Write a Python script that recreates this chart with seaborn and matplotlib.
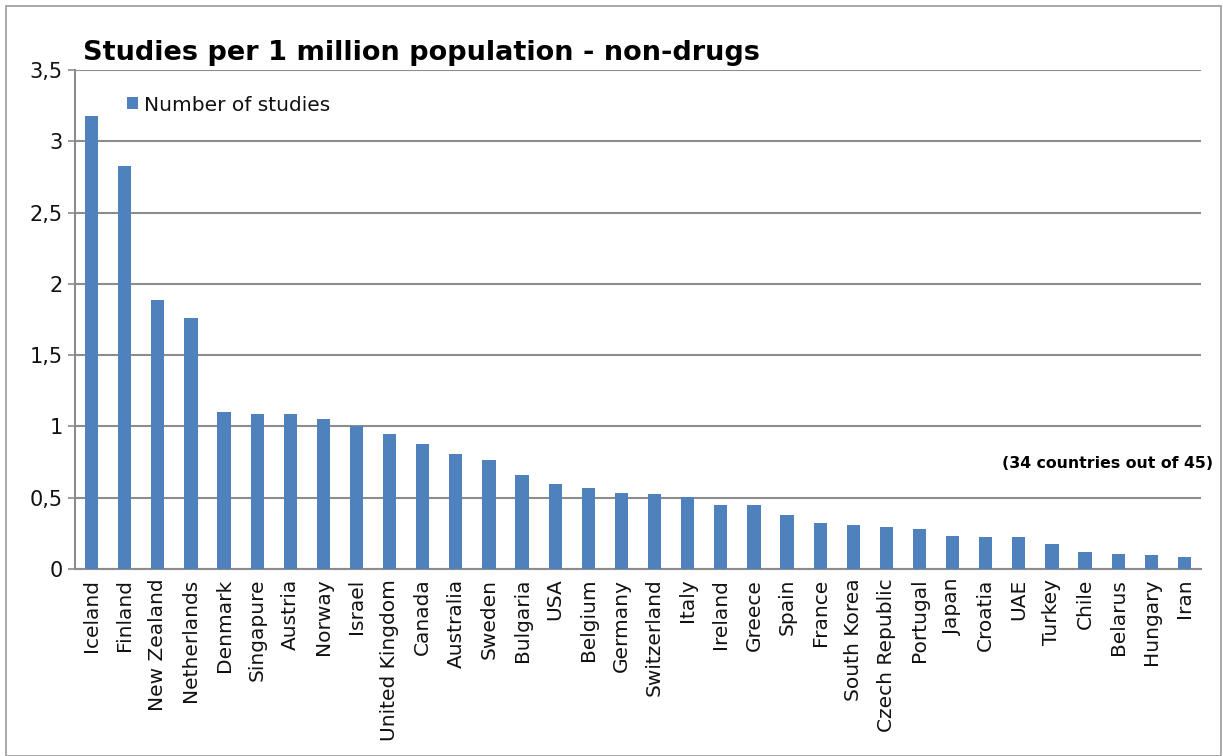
import matplotlib
matplotlib.use("Agg")
import matplotlib.pyplot as plt
import seaborn as sns
import pandas as pd
from matplotlib.patches import Rectangle

countries = ["Iceland", "Finland", "New Zealand", "Netherlands", "Denmark", "Singapure",
             "Austria", "Norway", "Israel", "United Kingdom", "Canada", "Australia",
             "Sweden", "Bulgaria", "USA", "Belgium", "Germany", "Switzerland", "Italy",
             "Ireland", "Greece", "Spain", "France", "South Korea", "Czech Republic",
             "Portugal", "Japan", "Croatia", "UAE", "Turkey", "Chile", "Belarus",
             "Hungary", "Iran"]
studies = [3.18, 2.83, 1.89, 1.76, 1.10, 1.09, 1.085, 1.05, 1.00, 0.95, 0.875, 0.81,
           0.762, 0.66, 0.596, 0.566, 0.535, 0.528, 0.503, 0.451, 0.449, 0.382, 0.32,
           0.31, 0.292, 0.28, 0.229, 0.226, 0.222, 0.177, 0.119, 0.105, 0.10, 0.083]
ytick_values = [0, 0.5, 1, 1.5, 2, 2.5, 3, 3.5]
ytick_labels = ["0", "0,5", "1", "1,5", "2", "2,5", "3", "3,5"]
title = "Studies per 1 million population - non-drugs"
series_name = "Number of studies"
note = "(34 countries out of 45)"

sns.set_style("white")
plt.rcParams["font.family"] = ["DejaVu Sans"]

df = pd.DataFrame({"country": countries, "value": studies})

fig = plt.figure(figsize=(12.23, 7.56), dpi=100)
ax = fig.add_axes([75 / 1223, 1 - 569 / 756, (1201 - 75) / 1223, (569 - 70) / 756])

bar_color = "#4F81BD"
sns.barplot(data=df, x="country", y="value", color=bar_color, width=0.4,
            saturation=1, ax=ax, label=series_name, zorder=3, linewidth=0)

ax.set_xlim(-0.5, len(countries) - 0.5)
ax.set_ylim(0, 3.5)
ax.set_yticks(ytick_values)
ax.set_yticklabels(ytick_labels, fontsize=15, color="#111111")
ax.yaxis.grid(True, color="#8c8c8c", linewidth=1.5, zorder=0)
ax.set_axisbelow(True)
ax.set_xlabel("")
ax.set_ylabel("")

ax.set_xticks(range(len(countries)))
ax.set_xticklabels(countries, rotation=90, fontsize=14.5, color="#111111")
ax.set_xticks([i - 0.5 for i in range(len(countries) + 1)], minor=True)
ax.tick_params(axis="x", which="major", length=0, pad=7)
ax.tick_params(axis="x", which="minor", length=5, width=1.2, color="#8c8c8c", direction="out")
ax.tick_params(axis="y", which="major", length=5, width=1.2, color="#8c8c8c", direction="out", pad=4, left=True)

for side in ["top", "right"]:
    ax.spines[side].set_visible(False)
for side in ["left", "bottom"]:
    ax.spines[side].set_color("#8c8c8c")
    ax.spines[side].set_linewidth(1.5)

leg = ax.legend(loc="upper left", bbox_to_anchor=(0.039, 0.965), frameon=False,
                fontsize=14.5, handlelength=0.55, handleheight=0.55, handletextpad=0.3,
                borderaxespad=0)
for t in leg.get_texts():
    t.set_color("#111111")

fig.text(83 / 1223, 1 - 60 / 756, title, fontsize=19.5, fontweight="bold",
         ha="left", va="baseline", color="black")
fig.text(1213 / 1223, 1 - 464 / 756, note, fontsize=11.3, fontweight="bold",
         ha="right", va="center", color="black")

fig.patches.append(Rectangle((6 / 1223, 0), 1 - 8 / 1223, 1 - 6 / 756,
                             transform=fig.transFigure, fill=False,
                             edgecolor="#9a9a9a", linewidth=1.2))

fig.savefig("out.png", dpi=100)
